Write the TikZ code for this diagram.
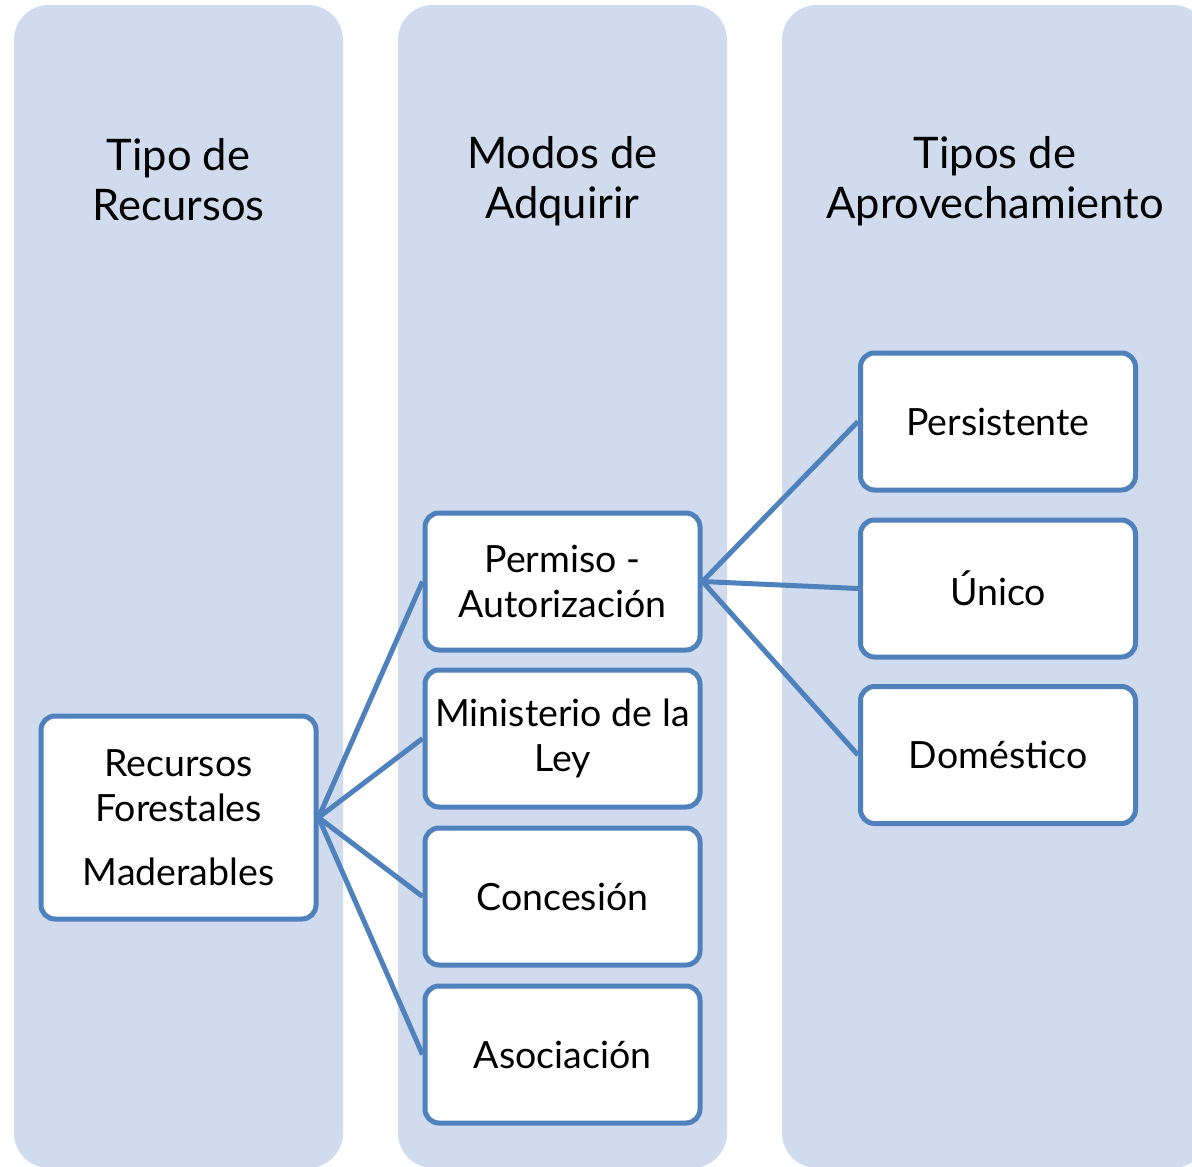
\documentclass[tikz,border=0pt]{standalone}
\usepackage{fontspec}
\setmainfont{Lato}
\definecolor{colfill}{RGB}{208,220,238}
\definecolor{boxblue}{RGB}{79,129,189}
\begin{document}
\begin{tikzpicture}[x=1pt,y=-1pt,
  col/.style={fill=colfill, draw=none, rounded corners=35pt, inner sep=0pt, minimum width=329pt, minimum height=1163pt},
  head/.style={align=center, inner sep=0pt, font=\fontsize{43.5}{50}\selectfont},
  itembox/.style={draw=boxblue, line width=5pt, fill=white, rounded corners=14pt, inner sep=0pt, minimum width=275pt, minimum height=137pt, align=center, font=\fontsize{37.5}{45}\selectfont},
  conn/.style={draw=boxblue, line width=5pt}]
\useasboundingbox (0,0) rectangle (1192,1167);
\fill[white] (0,0) rectangle (1192,1167);
\node[col] (col1) at (178.5,586.5) {};
\node[col] (col2) at (562.5,586.5) {};
\node[col, minimum width=426pt] (col3) at (995,586.5) {};
\node[head] (h1) at (178.5,180) {Tipo de\\Recursos};
\node[head] (h2) at (562.5,181) {Modos de\\Adquirir};
\node[head] (h3) at (995,181) {Tipos de\\Aprovechamiento};
\node[itembox, minimum height=203pt] (rfm) at (178.5,817.5) {Recursos\\Forestales\\[19pt]Maderables};
\node[itembox] (perm) at (562.5,581.5) {Permiso -\\Autorización};
\node[itembox] (mini) at (562.5,738.5) {Ministerio de la\\Ley};
\node[itembox] (conc) at (562.5,896.5) {Concesión};
\node[itembox] (asoc) at (562.5,1054.5) {Asociación};
\node[itembox] (pers) at (998,421.5) {Persistente};
\node[itembox] (unic) at (998,588.5) {Único};
\node[itembox] (dome) at (998,755) {Doméstico};
\draw[conn] (rfm.east) -- (perm.west);
\draw[conn] (rfm.east) -- (mini.west);
\draw[conn] (rfm.east) -- (conc.west);
\draw[conn] (rfm.east) -- (asoc.west);
\draw[conn] (perm.east) -- (pers.west);
\draw[conn] (perm.east) -- (unic.west);
\draw[conn] (perm.east) -- (dome.west);
\end{tikzpicture}
\end{document}
